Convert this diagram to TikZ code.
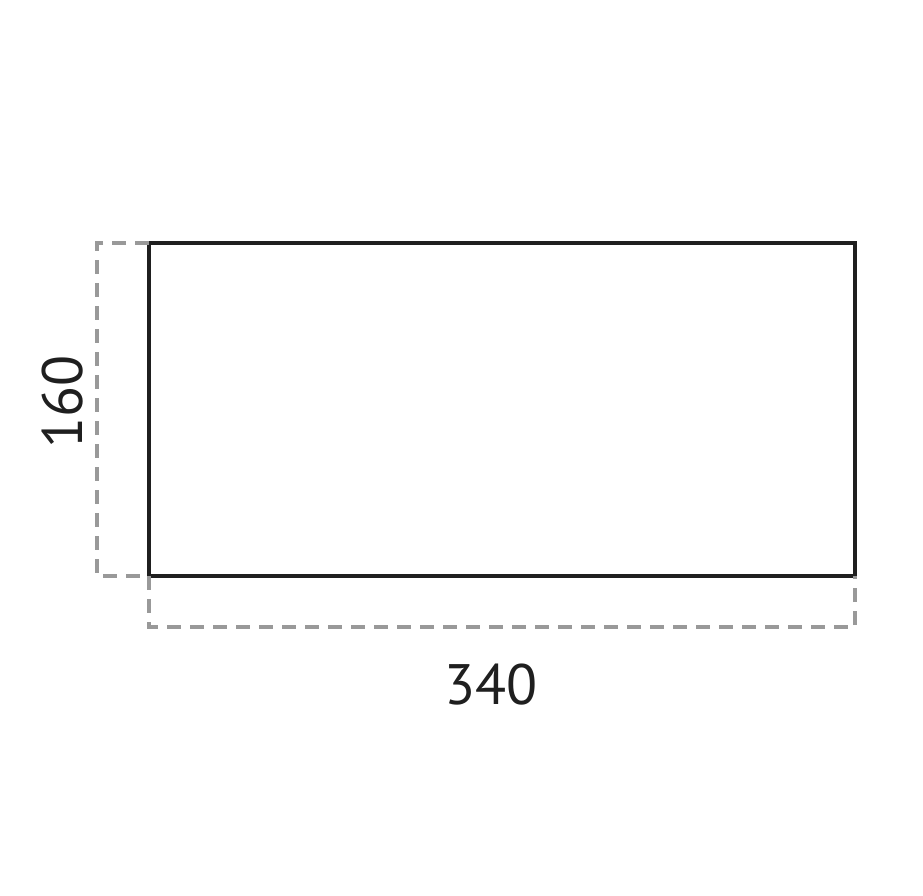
\documentclass[tikz,border=0pt]{standalone}
\usepackage{fontspec}
\setmainfont{PT Sans}
\begin{document}
\begin{tikzpicture}[x=1pt,y=-1pt,
  outline/.style={draw=black!88, line width=3.3pt},
  dim/.style={draw=black!40, line width=3.3pt, dash pattern=on 14pt off 9pt},
  dimtext/.style={font=\fontsize{57}{60}\selectfont, text=black!88, inner sep=0pt}]
\useasboundingbox (0,0) rectangle (923,896);
\coordinate (tl) at (149,243);
\coordinate (br) at (855,576);
\coordinate (bl) at (149,576);
\coordinate (tr) at (855,243);
\draw[outline] (tl) rectangle (br);
\coordinate (lt) at (97,243);
\coordinate (lb) at (97,576);
\coordinate (bL) at (149,627);
\coordinate (bR) at (855,627);
\draw[dim] (tl) -- (lt) -- (lb) -- (bl);
\draw[dim] (bl) -- (bL) -- (bR) -- (br);
\node[dimtext, rotate=90] (h) at (63,402) {160};
\node[dimtext] (w) at (491,685) {340};
\end{tikzpicture}
\end{document}
